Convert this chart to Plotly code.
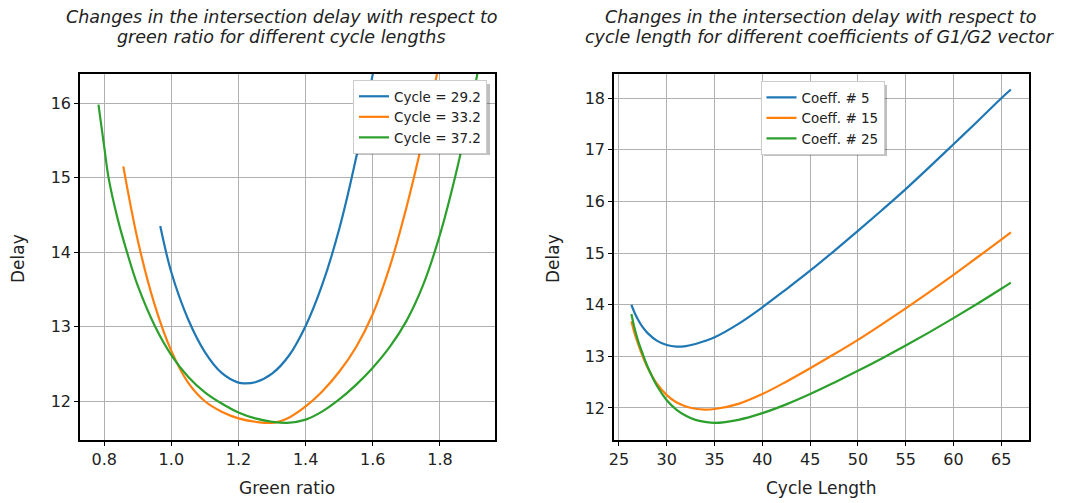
import plotly.graph_objects as go
from plotly.subplots import make_subplots

# --- Left panel: delay vs green ratio for three cycle lengths ---
cycle_labels = ["Cycle = 29.2", "Cycle = 33.2", "Cycle = 37.2"]

green_c29 = [0.967, 1.00, 1.05, 1.10, 1.15, 1.20, 1.22, 1.25, 1.30, 1.35, 1.40, 1.45, 1.50, 1.55, 1.60, 1.62]
delay_c29 = [14.35, 13.73, 13.10, 12.66, 12.38, 12.25, 12.24, 12.255, 12.37, 12.61, 13.01, 13.57, 14.31, 15.26, 16.39, 16.90]

green_c33 = [0.857, 0.90, 0.95, 1.00, 1.05, 1.10, 1.15, 1.20, 1.25, 1.30, 1.35, 1.40, 1.45, 1.50, 1.55, 1.60, 1.65, 1.70, 1.75, 1.80]
delay_c33 = [15.15, 14.16, 13.30, 12.675, 12.25, 12.00, 11.86, 11.77, 11.725, 11.71, 11.78, 11.93, 12.135, 12.395, 12.725, 13.17, 13.795, 14.595, 15.53, 16.58]

green_c37 = [0.783, 0.80, 0.813, 0.84, 0.868, 0.90, 0.952, 1.00, 1.05, 1.10, 1.15, 1.20, 1.25, 1.30, 1.345, 1.40, 1.45, 1.50, 1.55, 1.60, 1.65, 1.70, 1.75, 1.80, 1.85, 1.90, 1.92]
delay_c37 = [15.98, 15.42, 15.00, 14.45, 14.00, 13.55, 13.00, 12.62, 12.33, 12.12, 11.97, 11.85, 11.77, 11.725, 11.71, 11.754, 11.864, 12.024, 12.22, 12.45, 12.725, 13.075, 13.56, 14.235, 15.10, 16.13, 16.60]

# --- Right panel: delay vs cycle length for three G1/G2 coefficients ---
coeff_labels = ["Coeff. # 5", "Coeff. # 15", "Coeff. # 25"]

cycle_len = [26.3, 26.6, 27, 27.5, 28, 29, 30, 31, 32, 33, 34, 35, 37.5, 40, 42.5, 45, 47.5, 50, 52.5, 55, 57.5, 60, 62.5, 65, 66]
delay_k5 = [14.00, 13.86, 13.71, 13.56, 13.45, 13.30, 13.22, 13.19, 13.20, 13.24, 13.30, 13.37, 13.63, 13.95, 14.30, 14.66, 15.04, 15.43, 15.83, 16.24, 16.67, 17.11, 17.55, 18.00, 18.17]
delay_k15 = [13.68, 13.47, 13.24, 12.99, 12.78, 12.46, 12.25, 12.11, 12.03, 11.985, 11.97, 11.98, 12.08, 12.27, 12.51, 12.77, 13.04, 13.32, 13.62, 13.93, 14.25, 14.58, 14.92, 15.26, 15.40]
delay_k25 = [13.82, 13.57, 13.30, 13.04, 12.80, 12.42, 12.15, 11.97, 11.85, 11.77, 11.73, 11.71, 11.77, 11.90, 12.07, 12.27, 12.49, 12.72, 12.96, 13.21, 13.47, 13.74, 14.02, 14.31, 14.43]

title_left = ["Changes in the intersection delay with respect to",
              "green ratio for different cycle lengths"]
title_right = ["Changes in the intersection delay with respect to",
               "cycle length for different coefficients of G1/G2 vector"]

colors = ["#1f77b4", "#ff7f0e", "#2ca02c"]

fig = make_subplots(rows=1, cols=2)

left_series = [(green_c29, delay_c29), (green_c33, delay_c33), (green_c37, delay_c37)]
for (gx, dy), name, c in zip(left_series, cycle_labels, colors):
    fig.add_trace(go.Scatter(
        x=gx, y=dy, mode="lines", name=name,
        line=dict(color=c, width=2.2, shape="spline", smoothing=1.0),
        legend="legend"
    ), row=1, col=1)

for dy, name, c in zip([delay_k5, delay_k15, delay_k25], coeff_labels, colors):
    fig.add_trace(go.Scatter(
        x=cycle_len, y=dy, mode="lines", name=name,
        line=dict(color=c, width=2.2, shape="spline", smoothing=1.0),
        legend="legend2"
    ), row=1, col=2)

# the page body has an 8px margin, so the figure sits at (8, 8) in the window
W, H = 1060, 495
OFF = 8


def px(x):
    return (x - OFF) / W


def py(y):
    return 1 - (y - OFF) / H


font = "DejaVu Sans, Arial, sans-serif"
label_font = dict(family=font, size=17, color="#222")

axis_style = dict(
    showline=True, linecolor="black", linewidth=1.5, mirror=True,
    showgrid=True, gridcolor="#b0b0b0", gridwidth=1,
    ticks="outside", ticklen=4, tickcolor="black",
    tickfont=dict(size=16, color="#222"), zeroline=False, automargin=False,
)

fig.update_xaxes(axis_style)
fig.update_yaxes(axis_style)

fig.update_xaxes(domain=[px(80), px(495)], range=[0.728, 1.964], dtick=0.2, tickformat=".1f", row=1, col=1)
fig.update_yaxes(domain=[py(440), py(74)], range=[11.48, 16.39], dtick=1, row=1, col=1)
fig.update_xaxes(domain=[px(614), px(1029)], range=[24.48, 67.9], dtick=5, row=1, col=2)
fig.update_yaxes(domain=[py(440), py(74)], range=[11.38, 18.47], dtick=1, row=1, col=2)

# axis titles
for text, x, y, ang in [("Green ratio", 287, 488, 0), ("Cycle Length", 821, 488, 0),
                        ("Delay", 18, 259, -90), ("Delay", 553, 259, -90)]:
    fig.add_annotation(text=text, x=px(x), y=py(y), xref="paper", yref="paper",
                       xanchor="center", yanchor="middle", textangle=ang,
                       showarrow=False, font=label_font)

# panel titles, one annotation per line (matplotlib line spacing)
title_font = dict(family=font, size=17.5, color="#222")
for lines, cx in [(title_left, 281), (title_right, 820)]:
    for line, cy in zip(lines, [17, 37]):
        fig.add_annotation(text="<i>" + line + "</i>", x=px(cx), y=py(cy), xref="paper", yref="paper",
                           xanchor="center", yanchor="middle", showarrow=False, font=title_font)

legend_style = dict(bgcolor="white", bordercolor="#cccccc", borderwidth=1,
                    font=dict(size=13.5, color="#222"), itemwidth=30, tracegroupgap=0)

fig.update_layout(
    width=W, height=H,
    margin=dict(l=0, r=0, t=0, b=0),
    paper_bgcolor="white", plot_bgcolor="white",
    font=dict(family=font, color="#222"),
    showlegend=True,
    legend=dict(x=px(487), y=py(80), xanchor="right", yanchor="top", **legend_style),
    legend2=dict(x=px(822.5), y=py(81), xanchor="center", yanchor="top", **legend_style),
)

# legend drop shadows
for x0, x1, y0, y1 in [(356, 490, 84, 155), (764, 887, 85, 156)]:
    fig.add_shape(type="rect", xref="paper", yref="paper",
                  x0=px(x0), x1=px(x1), y0=py(y1), y1=py(y0),
                  fillcolor="rgba(0,0,0,0.25)", line=dict(width=0), layer="above")

fig.write_html("out.html")
